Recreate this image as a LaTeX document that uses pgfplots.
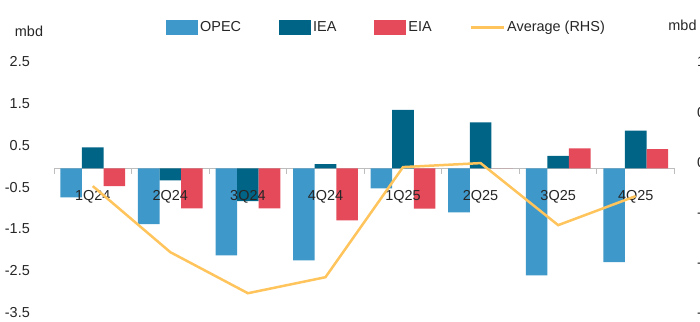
\documentclass[border=0pt]{standalone}
\usepackage{fontspec}
\setmainfont{Liberation Sans}
\usepackage{pgfplots}
\usepackage{pgfplotstable}
\pgfplotsset{compat=1.18}

\definecolor{opec}{HTML}{3E98CA}
\definecolor{iea}{HTML}{006487}
\definecolor{eia}{HTML}{E44A59}
\definecolor{avgline}{HTML}{FFC55C}
\definecolor{axisgrey}{HTML}{BDBDBD}
\definecolor{txt}{HTML}{262626}

\pgfplotsset{
  swatch legend/.style={legend image code/.code={\fill[##1] (0bp,-7.5bp) rectangle (32bp,7.5bp);}},
  stroke legend/.style={legend image code/.code={\draw[##1] (0bp,0bp) -- (33bp,0bp);}},
}

% Revisions to oil demand growth by quarter (mbd); avg is plotted on the right axis
\pgfplotstableread{
idx  opec   iea    eia    avg
0   -0.70   0.50  -0.43  -0.22
1   -1.34  -0.29  -0.96  -0.88
2   -2.09  -0.79  -0.96  -1.29
3   -2.21   0.10  -1.25  -1.13
4   -0.48   1.40  -0.97  -0.03
5   -1.06   1.10   0.00   0.01
6   -2.57   0.30   0.48  -0.61
7   -2.25   0.90   0.46  -0.32
}\revisions

\begin{document}
\begin{tikzpicture}[font=\fontsize{14.5}{17}\selectfont, every node/.append style={text=txt}]
\path[use as bounding box, clip] (0bp,0bp) rectangle (700bp,322bp);

\begin{axis}[
  at={(54bp,7.75bp)}, anchor=south west,
  scale only axis, width=620.5bp, height=250.25bp,
  xmin=-0.5, xmax=7.5, ymin=-3.5, ymax=2.5,
  axis on top,
  axis line style={draw=none},
  tick style={draw=none}, major tick length=0pt,
  xtick={0,...,7},
  xticklabels={1Q24,2Q24,3Q24,4Q24,1Q25,2Q25,3Q25,4Q25},
  xticklabel style={anchor=center, inner sep=0pt, yshift=117.25bp},
  ytick={-3.5,-2.5,-1.5,-0.5,0.5,1.5,2.5},
  yticklabels={-3.5,-2.5,-1.5,-0.5,0.5,1.5,2.5},
  yticklabel style={anchor=east, inner sep=0pt, xshift=-24bp, yshift=2bp},
  ybar=0pt, bar width=21.6bp,
  clip=false,
  legend columns=4,
  legend style={at={(0.1805,1.1459)}, anchor=west, draw=none, fill=none,
    inner sep=0pt, nodes={inner xsep=2bp, inner ysep=0pt},
    /tikz/every even column/.append style={column sep=36bp}},
]
  % baseline at zero with category separators
  \draw[axisgrey, line width=1.3bp] (axis cs:-0.5,0) -- (axis cs:7.5,0);
  \draw[axisgrey, line width=1bp]
    (axis cs:-0.5,0) -- ++(0bp,-6bp) (axis cs:0.5,0) -- ++(0bp,-6bp)
    (axis cs:1.5,0) -- ++(0bp,-6bp) (axis cs:2.5,0) -- ++(0bp,-6bp)
    (axis cs:3.5,0) -- ++(0bp,-6bp) (axis cs:4.5,0) -- ++(0bp,-6bp)
    (axis cs:5.5,0) -- ++(0bp,-6bp) (axis cs:6.5,0) -- ++(0bp,-6bp)
    (axis cs:7.5,0) -- ++(0bp,-6bp);

  \addplot[fill=opec, draw=none, swatch legend]
    table[x=idx, y=opec] {\revisions};
  \addlegendentry{OPEC}
  \addplot[fill=iea, draw=none, swatch legend]
    table[x=idx, y=iea] {\revisions};
  \addlegendentry{IEA}
  \addplot[fill=eia, draw=none, swatch legend]
    table[x=idx, y=eia] {\revisions};
  \addlegendentry{EIA}
  \addlegendimage{stroke legend, avgline, line width=2.5bp}
  \addlegendentry{Average (RHS)}
\end{axis}

\begin{axis}[
  at={(54bp,7.75bp)}, anchor=south west,
  scale only axis, width=620.5bp, height=250.25bp,
  xmin=-0.5, xmax=7.5, ymin=-1.5, ymax=1.0,
  axis line style={draw=none},
  tick style={draw=none}, major tick length=0pt,
  xtick=\empty,
  yticklabel pos=right,
  ytick={-1.5,-1,-0.5,0,0.5,1},
  yticklabels={-1.5,-1.0,-0.5,0.0,0.5,1.0},
  yticklabel style={anchor=west, inner sep=0pt, xshift=22.5bp, yshift=2bp},
  clip=false,
]
  \addplot[avgline, line width=2.5bp, no markers] table[x=idx, y=avg] {\revisions};
\end{axis}

\node at (29bp,291bp) {mbd};
\node at (682.5bp,297bp) {mbd};
\end{tikzpicture}
\end{document}
